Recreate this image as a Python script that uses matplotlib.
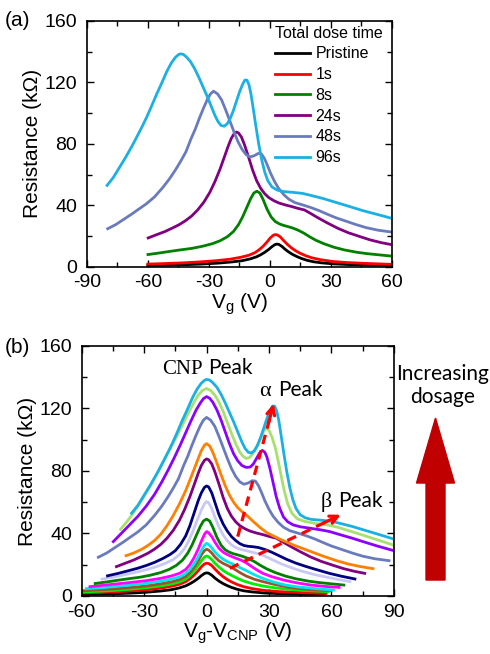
import matplotlib
matplotlib.use('Agg')
import matplotlib.pyplot as plt
from matplotlib.patches import FancyArrow
import numpy as np

# Panel (b): resistance (kOhm) vs Vg - Vcnp (V), bottom curve to top curve
dv_0 = [-63.4, -55, -45, -37, -29, -22, -17, -13, -10, -8, -6, -4, -2.5, -1, 0, 1, 2.5, 4, 6, 8, 10, 12, 15, 18, 22, 28, 35, 45, 56.6]
r_0 = [0.9, 1.1, 1.4, 1.8, 2.4, 3.2, 4.0, 5.2, 6.5, 7.8, 9.4, 11.3, 13.0, 14.4, 14.8, 14.6, 13.3, 11.5, 9.5, 7.9, 6.6, 5.5, 4.2, 3.3, 2.6, 1.9, 1.5, 1.2, 1.0]
dv_1 = [-62.6, -55, -45, -37, -29, -22, -17, -13, -10, -8, -6, -4, -2.5, -1, 0, 1, 2.5, 4, 6, 8, 10, 12, 15, 18, 22, 28, 35, 45, 57.4]
r_1 = [1.8, 2.1, 2.6, 3.2, 4.0, 5.0, 6.2, 7.5, 9.2, 11.0, 13.3, 16.2, 18.7, 20.5, 21.0, 20.8, 19.5, 17.3, 14.6, 12.3, 10.5, 9.0, 7.2, 5.9, 4.7, 3.5, 2.8, 2.2, 1.6]
dv_2 = [-63, -55, -45, -37, -29, -22, -17, -13, -10, -8, -6, -4, -2.5, -1, 0, 1, 2.5, 4, 6, 8, 10, 12, 15, 18, 22, 27, 33, 40, 50, 58.5]
r_2 = [2.3, 2.8, 3.5, 4.3, 5.3, 6.5, 7.6, 9.0, 10.8, 13.0, 16.0, 19.5, 22.5, 25.0, 25.6, 25.1, 23.3, 21.0, 18.5, 16.3, 14.6, 13.2, 11.2, 9.5, 7.9, 6.4, 5.2, 4.2, 3.3, 2.8]
dv_3 = [-63, -55, -45, -37, -29, -22, -17, -13, -10, -8, -6, -4, -2.5, -1, 0, 1, 2.5, 4, 6, 8, 10, 12, 14, 16, 19, 23, 27, 32, 40, 50, 59.5]
r_3 = [3.0, 3.7, 4.5, 5.4, 6.4, 7.8, 9.0, 10.5, 12.5, 15.0, 18.3, 22.5, 26.3, 29.0, 29.9, 29.4, 27.5, 25.0, 22.5, 20.8, 19.6, 18.3, 16.7, 15.0, 12.8, 10.7, 9.2, 7.6, 5.5, 4.0, 3.4]
dv_4 = [-57.8, -50, -45, -37, -29, -22, -17, -13, -10, -8, -6, -4, -2.5, -1, 0, 1, 2.5, 4, 6, 8, 10, 12, 14, 16, 19, 23, 27, 32, 38, 44, 51, 56, 61]
r_4 = [4.7, 5.3, 6.0, 7.0, 8.1, 9.5, 10.8, 12.2, 14.5, 17.0, 20.5, 25.0, 29.0, 32.5, 33.7, 33.0, 30.8, 28.2, 25.5, 23.5, 22.0, 20.8, 19.5, 18.2, 16.3, 13.6, 11.3, 9.0, 7.0, 5.8, 4.9, 4.3, 3.8]
dv_5 = [-56, -50, -45, -37, -29, -22, -17, -13, -10, -8, -6, -4, -2.5, -1, 0, 1, 2.5, 4, 6, 8, 10, 12, 14, 16.5, 19, 21.5, 24, 27, 31, 37, 43, 50, 57, 63.7]
r_5 = [6.0, 6.8, 7.5, 8.6, 9.8, 11.3, 12.8, 14.5, 17.0, 20.0, 24.5, 30.0, 35.0, 39.5, 41.2, 40.5, 38.0, 34.5, 30.5, 28.0, 26.5, 25.3, 24.2, 23.0, 21.3, 19.0, 16.8, 14.5, 12.5, 10.2, 8.5, 7.0, 6.1, 5.5]
dv_6 = [-53.5, -48, -43, -37.7, -32, -27, -22, -18, -14.5, -11.5, -9, -7, -5, -3, -1.5, 0, 1.5, 3, 5, 7, 9, 11, 13, 15, 17.5, 20, 23, 26, 29, 33, 38, 43, 49, 54, 60, 66]
r_6 = [8.0, 9.0, 10.0, 11.0, 12.0, 13.3, 15.0, 17.0, 19.6, 23.0, 27.5, 32.5, 38.5, 44.5, 48.0, 49.2, 48.0, 44.0, 37.5, 32.5, 29.5, 28.0, 27.0, 26.3, 25.3, 24.0, 22.0, 19.5, 17.3, 15.0, 12.7, 11.0, 9.5, 8.6, 7.8, 7.0]
dv_7 = [-50.2, -45, -40, -35, -29, -24, -20, -16, -13, -10.5, -8.5, -6.5, -4.5, -2.5, -1, 0, 1, 2.5, 4, 6, 8, 10, 12, 14, 16.5, 19, 22, 25, 28, 32, 36, 41.6, 47, 52.8, 58, 63, 68.9]
r_7 = [10.8, 12.0, 13.4, 14.9, 16.8, 18.8, 20.8, 23.3, 26.5, 30.5, 35.5, 41.5, 48.5, 55.0, 59.0, 60.4, 59.7, 56.0, 50.5, 44.0, 39.0, 35.3, 32.7, 31.0, 29.8, 29.0, 28.0, 27.0, 25.5, 23.0, 20.5, 17.7, 15.4, 13.4, 12.0, 10.6, 9.2]
dv_8 = [-47.6, -43, -38, -33, -29, -25, -21, -17.6, -15, -12.5, -10, -8, -6, -4, -2.5, -1, 0, 1, 2.5, 4, 6, 8, 10, 12, 14, 16, 18, 20, 22.5, 25, 28, 31, 34.5, 38.4, 43, 48, 53, 59, 65, 71.3]
r_8 = [12.9, 14.3, 16.0, 17.8, 19.5, 21.5, 24.0, 26.5, 29.0, 33.0, 38.5, 45.0, 53.0, 61.0, 66.0, 69.5, 70.4, 69.8, 66.0, 60.0, 52.0, 46.0, 41.5, 38.0, 35.5, 33.5, 32.3, 31.8, 31.5, 31.0, 29.8, 28.2, 26.0, 23.5, 21.0, 18.8, 16.8, 14.5, 12.6, 10.9]
dv_9 = [-43.3, -39, -35, -31, -28, -25, -22, -19, -16, -13, -10.5, -8, -6, -4, -2.5, -1, 0, 1, 2.5, 4, 6, 8, 10, 12, 14, 16, 18.5, 21, 24, 27, 30.4, 33.5, 36.8, 40, 44.8, 50, 55, 60, 65.6, 71, 76]
r_9 = [18.8, 21.0, 23.0, 25.5, 27.5, 30.0, 33.0, 37.0, 42.0, 48.5, 55.5, 63.6, 71.0, 78.5, 83.5, 86.8, 87.7, 87.2, 84.5, 79.5, 71.5, 63.0, 56.0, 51.0, 47.5, 45.0, 43.0, 41.5, 40.3, 39.3, 38.0, 37.0, 34.5, 32.0, 28.5, 25.0, 22.2, 20.0, 17.6, 15.8, 14.5]
dv_10 = [-38.7, -35, -31, -28, -25, -22, -19, -16, -13, -10, -8, -6, -4, -2.5, -1, 0, 1.5, 3, 5, 7, 9, 11, 13, 15, 17, 19, 21, 23, 26, 29, 32, 35, 38, 41, 45, 50, 56, 62, 68, 74, 80]
r_10 = [25.8, 27.5, 30.0, 32.5, 35.5, 39.5, 45.0, 51.5, 59.0, 67.5, 74.2, 81.0, 88.0, 93.0, 96.5, 97.5, 96.0, 92.0, 85.0, 77.5, 70.5, 64.5, 60.0, 56.5, 54.0, 52.0, 49.5, 47.0, 43.5, 40.5, 38.5, 36.5, 34.8, 33.0, 31.0, 28.5, 25.5, 22.8, 20.5, 18.8, 17.5]
dv_11 = [-52, -48, -44, -40, -36.8, -33, -29, -25, -21.5, -18.5, -16, -13.5, -11, -9, -7, -5, -3, -1.5, 0, 2, 4, 6, 8, 10, 12, 14, 16, 18, 20, 22, 23.5, 25, 26.5, 28, 30, 32, 34.5, 37, 40, 44, 48, 52, 56, 60, 64, 70, 75, 81, 87.7]
r_11 = [24.8, 27.5, 31.0, 34.5, 37.5, 41.0, 45.5, 51.5, 57.5, 63.5, 69.0, 75.0, 83.5, 89.5, 96.5, 103.0, 109.0, 112.5, 114.3, 112.5, 108.5, 102.0, 95.0, 88.0, 81.5, 76.5, 73.0, 71.5, 72.3, 73.8, 73.5, 70.5, 66.0, 61.0, 55.5, 51.0, 47.0, 44.0, 41.8, 40.2, 38.5, 36.5, 34.2, 32.0, 30.2, 27.5, 25.5, 23.8, 22.6]
dv_12 = [-44.8, -41, -37, -33, -29, -25, -21.5, -18.5, -15.5, -12.5, -10, -7.5, -5, -3, -1.5, 0, 1.5, 3, 5, 7, 9, 11, 13, 15, 17, 19, 21, 22.5, 24, 25.5, 26.8, 28, 29, 30.4, 32, 33.5, 35.2, 37, 39, 41.6, 45, 49.6, 55, 59.2, 64, 70, 75.2, 82, 90]
r_12 = [34.8, 40.0, 45.5, 51.0, 57.5, 65.0, 73.0, 80.5, 88.5, 97.0, 104.5, 112.0, 119.0, 123.5, 126.3, 127.6, 126.5, 124.0, 119.0, 112.5, 105.0, 97.5, 91.0, 86.5, 83.5, 82.3, 82.5, 84.5, 88.0, 91.5, 93.2, 92.0, 89.0, 82.0, 72.5, 63.5, 56.0, 50.5, 47.5, 45.5, 44.3, 43.4, 42.3, 41.2, 39.3, 37.0, 34.8, 32.0, 29.0]
dv_13 = [-41.3, -38, -35, -32, -29, -26, -23, -20, -17, -14, -11, -8, -6, -4, -2, 0, 2, 4, 6, 8, 10, 12, 14, 16, 17.5, 19, 20.5, 22, 24, 26, 27.5, 28.9, 30, 31.5, 33, 34.5, 36, 37.5, 39, 41, 43.5, 47, 52, 58, 63, 69, 75, 82, 90]
r_13 = [42.7, 48.0, 53.5, 59.5, 66.0, 73.0, 80.0, 88.0, 95.5, 103.0, 111.0, 119.0, 124.0, 128.5, 131.5, 132.8, 131.5, 128.5, 124.0, 118.0, 111.0, 104.0, 97.5, 92.0, 89.5, 88.0, 88.5, 90.5, 95.0, 101.0, 105.5, 107.3, 106.0, 101.5, 95.0, 86.0, 76.0, 66.5, 59.0, 53.0, 49.5, 47.8, 46.5, 45.5, 44.0, 41.5, 39.0, 36.0, 32.5]
dv_14 = [-36, -33, -30, -27, -24, -21.4, -18.5, -16.5, -14, -11.6, -9, -6.7, -4.5, -2.5, -1, 0, 1.5, 3, 5, 7, 9, 11, 13, 15, 17, 18.5, 20, 21.5, 23, 24.5, 26, 27.5, 29, 30.5, 31.7, 32.7, 33.7, 34.7, 35.7, 37, 38.5, 40, 41.5, 43, 45, 47.5, 50.5, 55, 60, 65, 70, 75, 82, 89.6, 97, 104]
r_14 = [53.0, 58.0, 64.5, 71.0, 78.0, 84.5, 92.0, 97.5, 105.0, 112.5, 120.0, 127.0, 132.5, 136.2, 138.0, 138.6, 138.2, 136.5, 133.5, 129.0, 123.5, 117.5, 111.5, 105.0, 98.5, 94.5, 92.0, 91.5, 93.0, 96.5, 101.5, 107.5, 113.5, 118.5, 121.5, 121.5, 118.5, 112.5, 104.0, 92.5, 80.0, 69.5, 61.5, 56.0, 52.0, 50.0, 49.0, 48.5, 47.8, 46.2, 44.5, 42.5, 39.7, 36.6, 34.0, 31.5]

dv_all = [dv_0, dv_1, dv_2, dv_3, dv_4, dv_5, dv_6, dv_7, dv_8, dv_9, dv_10, dv_11, dv_12, dv_13, dv_14]
r_all = [r_0, r_1, r_2, r_3, r_4, r_5, r_6, r_7, r_8, r_9, r_10, r_11, r_12, r_13, r_14]
colors = ['#000000', '#ff0000', '#00ee00', '#a0522d', '#00e5ee', '#ff00ff', '#008000',
          '#c8c8f4', '#000080', '#800080', '#ff8000', '#6a7bbd', '#8c00ff', '#a8e070', '#1bb0e4']

# Panel (a): six of the curves, at their own CNP gate voltage
a_index = [0, 1, 6, 9, 11, 14]
a_labels = ['Pristine', '1s', '8s', '24s', '48s', '96s']
a_cnp = [3.4, 2.6, -6.4, -16.5, -27.7, -44.0]

# dashed guide arrows in (b): (start), (tip)
alpha_arrow = [(15.0, 38.0), (32.3, 123.0)]
beta_arrow = [(11.2, 17.7), (64.5, 52.0)]

plt.rcParams['font.family'] = ['Liberation Sans', 'DejaVu Sans']
plt.rcParams['mathtext.fontset'] = 'custom'
plt.rcParams['mathtext.rm'] = 'Liberation Sans'
plt.rcParams['mathtext.default'] = 'rm'
plt.rcParams['axes.unicode_minus'] = False

fig = plt.figure(figsize=(4.9, 6.54), dpi=100)
ax1 = fig.add_axes([0.177, 0.592, 0.623, 0.376])
ax2 = fig.add_axes([0.1667, 0.0887, 0.637, 0.3823])

def style(ax, xmin, xmax):
    ax.set_xlim(xmin, xmax)
    ax.set_ylim(0, 160)
    ax.set_xticks(np.arange(xmin, xmax + 1, 30))
    ax.set_xticks(np.arange(xmin, xmax + 1, 15), minor=True)
    ax.set_yticks(np.arange(0, 161, 40))
    ax.set_yticks(np.arange(0, 161, 20), minor=True)
    ax.tick_params(which='both', direction='in', top=True, right=True, width=1.0)
    ax.tick_params(which='major', length=5, labelsize=14)
    ax.tick_params(which='minor', length=3.5)
    ax.tick_params(axis='x', pad=5.5)
    ax.tick_params(axis='y', pad=7)
    for s in ax.spines.values():
        s.set_linewidth(1.2)
    ax.set_ylabel('Resistance (k\u03a9)', fontsize=15, labelpad=2)

for i, lab, v0 in zip(a_index, a_labels, a_cnp):
    ax1.plot(np.array(dv_all[i]) + v0, r_all[i], color=colors[i], lw=2.0, label=lab)
style(ax1, -90, 60)
ax1.set_xlabel('V$_{g}$ (V)', fontsize=15, labelpad=0)
ax1.legend(title='Total dose time', loc='upper right', bbox_to_anchor=(1.0, 1.02),
           frameon=False, fontsize=11.5, title_fontsize=11.5, handlelength=2.2,
           handletextpad=0.35, labelspacing=0.36, borderaxespad=0.2, alignment='left')

for i in range(len(dv_all)):
    ax2.plot(dv_all[i], r_all[i], color=colors[i], lw=2.0)
style(ax2, -60, 90)
ax2.set_xlabel('V$_{g}$-V$_{CNP}$ (V)', fontsize=15, labelpad=0)

for (x0, y0), (x1, y1) in [alpha_arrow, beta_arrow]:
    ax2.plot([x0, x0 + 0.93 * (x1 - x0)], [y0, y0 + 0.93 * (y1 - y0)], color='red',
             lw=2.3, ls=(0, (3, 2)))
    ax2.annotate('', xy=(x1, y1), xytext=(x0 + 0.85 * (x1 - x0), y0 + 0.85 * (y1 - y0)),
                 arrowprops=dict(arrowstyle='->', color='red', lw=2.3,
                                 mutation_scale=14, shrinkA=0, shrinkB=0))

serif = ['Liberation Serif', 'DejaVu Serif']
sans = ['Lato', 'DejaVu Sans']
ax2.text(-1.6, 141.9, 'CNP', family=serif, fontsize=15, ha='right', va='baseline')
ax2.text(0.8, 141.9, 'Peak', family=sans, fontsize=15, ha='left', va='baseline')
ax2.text(30.8, 128, '\u03b1', family=serif, fontsize=16, ha='right', va='baseline')
ax2.text(34.4, 128, 'Peak', family=sans, fontsize=15, ha='left', va='baseline')
ax2.text(60.1, 57.2, '\u03b2', family=serif, fontsize=16, ha='right', va='baseline')
ax2.text(63.2, 57.2, 'Peak', family=sans, fontsize=15, ha='left', va='baseline')

fig.text(0.01, 0.969, '(a)', fontsize=15, va='center')
fig.text(0.01, 0.469, '(b)', fontsize=15, va='center')
fig.text(0.904, 0.4105, 'Increasing\ndosage', family=sans, fontsize=15, ha='center',
         va='center', linespacing=1.15)
fig.add_artist(FancyArrow(0.8888, 0.1131, 0, 0.2477, width=19 / 490, head_width=38 / 490,
                          head_length=65 / 654, length_includes_head=True,
                          color='#c00000', transform=fig.transFigure))

fig.savefig('out.png', dpi=100)
